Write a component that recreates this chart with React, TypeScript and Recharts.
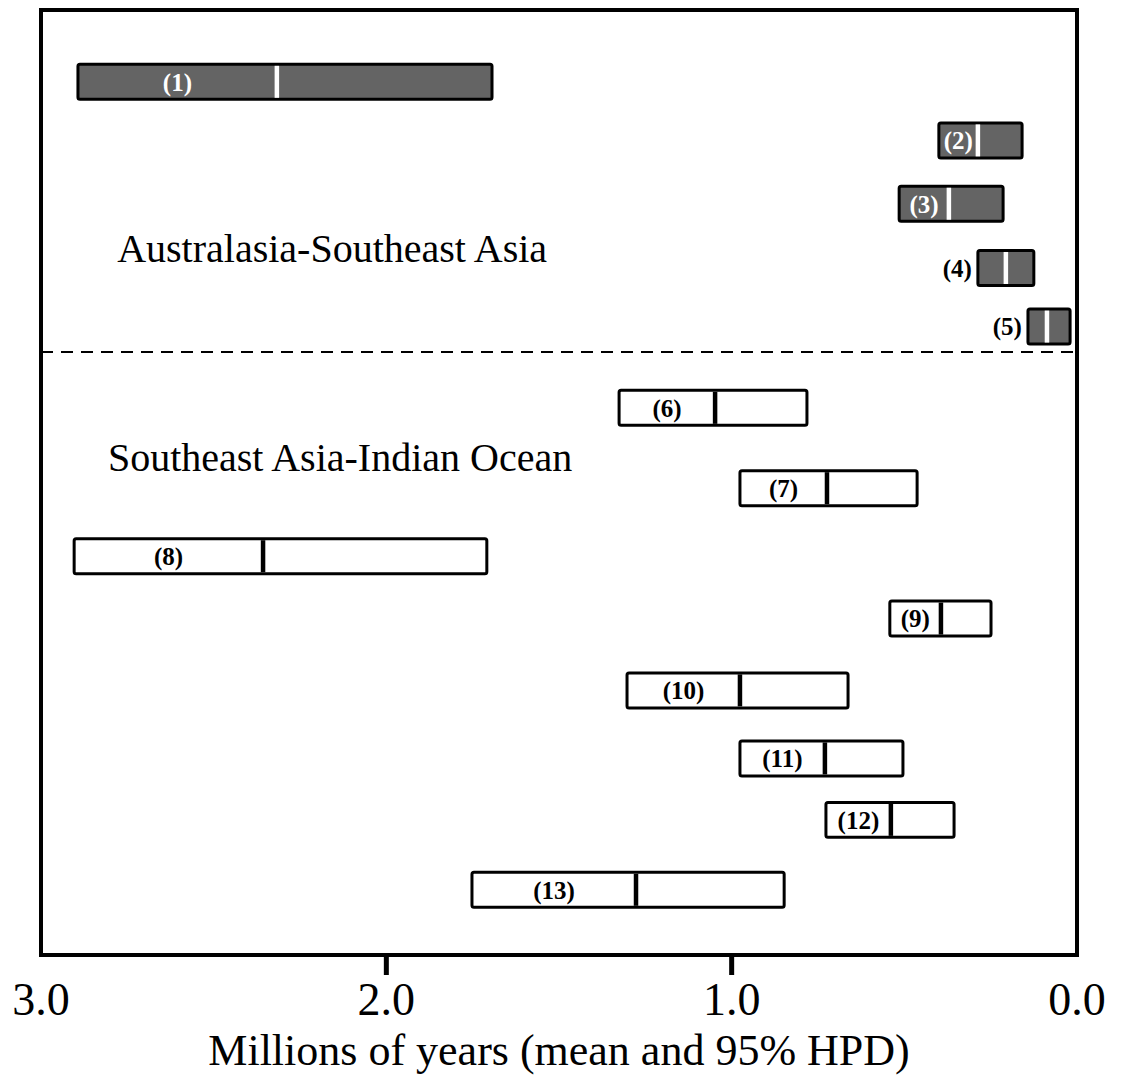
import React from 'react';
import { ComposedChart, XAxis, YAxis, ReferenceArea, ReferenceLine, ReferenceDot, Scatter, Label } from 'recharts';

// Node labels
const nodeLabels = ['(1)', '(2)', '(3)', '(4)', '(5)', '(6)', '(7)', '(8)', '(9)', '(10)', '(11)', '(12)', '(13)'];
// 95% HPD, older bound (Ma)
const hpdOld = [2.893, 0.400, 0.515, 0.287, 0.142, 1.326, 0.976, 2.904, 0.542, 1.303, 0.976, 0.727, 1.752];
// 95% HPD, younger bound (Ma)
const hpdYoung = [1.694, 0.159, 0.214, 0.125, 0.020, 0.782, 0.463, 1.709, 0.249, 0.663, 0.504, 0.356, 0.848];
// mean age (Ma)
const meanAge = [2.317, 0.287, 0.371, 0.206, 0.087, 1.048, 0.724, 2.357, 0.394, 0.976, 0.730, 0.539, 1.277];
// vertical lane of each node (0 = top, 100 = bottom)
const lane = [7.6, 13.8, 20.5, 27.3, 33.5, 42.1, 50.6, 57.8, 64.4, 72.0, 79.2, 85.7, 93.1];
// group: true = Australasia-Southeast Asia
const isAustralasian = [true, true, true, true, true, false, false, false, false, false, false, false, false];
// label drawn outside to the left of the box
const labelOutside = [false, false, false, true, true, false, false, false, false, false, false, false, false];

const regionNames = ['Australasia-Southeast Asia', 'Southeast Asia-Indian Ocean'];
const regionX = [2.157, 2.134];
const regionY = [25.2, 47.3];
const dividerLane = 36.2;

const xTicks = [3, 2, 1, 0];
const xTitle = 'Millions of years (mean and 95% HPD)';

const rows = nodeLabels.map((id, i) => ({
  id,
  old: hpdOld[i],
  young: hpdYoung[i],
  mean: meanAge[i],
  pos: lane[i],
  dark: isAustralasian[i],
  outside: labelOutside[i],
}));

const SERIF = '"Liberation Serif", "Times New Roman", serif';
const HALF = 1.85;

const AxisTick = (props: any) => {
  const { x, y, payload } = props;
  const v = payload.value;
  const inner = v !== 0 && v !== 3;
  return (
    <g>
      {inner && <line x1={x} x2={x} y1={y} y2={y + 20} stroke="#000" strokeWidth={5} />}
      <text x={x} y={y + 60} textAnchor="middle" fontFamily={SERIF} fontSize={46} fill="#000">
        {v.toFixed(1)}
      </text>
    </g>
  );
};

const MeanMark = (props: any) => {
  const { cx, cy, payload } = props;
  return (
    <rect x={cx - 2.25} y={cy - 16} width={4.5} height={32} fill={payload.dark ? '#ffffff' : '#000000'} />
  );
};

export default function App() {
  return (
    <div style={{ margin: '-8px 0 0 -8px', width: 1121, height: 1085, background: '#fff' }}>
      <ComposedChart width={1121} height={1085} margin={{ top: 10, right: 44, bottom: 10, left: 41 }}>
        <XAxis
          type="number"
          dataKey="mean"
          domain={[0, 3]}
          reversed
          ticks={xTicks}
          interval={0}
          axisLine={false}
          tickLine={false}
          tickSize={0}
          tickMargin={0}
          height={120}
          tick={<AxisTick />}
        >
          <Label value={xTitle} position="insideBottom" offset={10} fontFamily={SERIF} fontSize={44} fill="#000" />
        </XAxis>
        <YAxis type="number" dataKey="pos" domain={[0, 100]} reversed hide />

        <ReferenceArea x1={3} x2={0} y1={0} y2={100} fill="none" stroke="#000" strokeWidth={4} />
        <ReferenceLine y={dividerLane} stroke="#000" strokeWidth={2} strokeDasharray="12 8" />

        {regionNames.map((name, i) => (
          <ReferenceDot
            key={name}
            x={regionX[i]}
            y={regionY[i]}
            r={1}
            fill="none"
            stroke="none"
            label={{ value: name, position: 'center', fontFamily: SERIF, fontSize: 40, fill: '#000' }}
          />
        ))}

        {rows.map((r) => (
          <ReferenceArea
            key={'box' + r.id}
            x1={r.old}
            x2={r.young}
            y1={r.pos - HALF}
            y2={r.pos + HALF}
            fill={r.dark ? '#646464' : '#ffffff'}
            fillOpacity={1}
            stroke="#000"
            strokeWidth={3}
            radius={2}
          />
        ))}

        {rows.map((r) => (
          <ReferenceArea
            key={'lab' + r.id}
            x1={r.old}
            x2={r.mean}
            y1={r.pos - HALF}
            y2={r.pos + HALF}
            fill="none"
            stroke="none"
            label={{
              value: r.id,
              position: r.outside ? 'left' : 'center',
              offset: 6,
              fontFamily: SERIF,
              fontWeight: 'bold',
              fontSize: 25,
              fill: r.dark && !r.outside ? '#ffffff' : '#000000',
            }}
          />
        ))}

        <Scatter data={rows} dataKey="pos" shape={<MeanMark />} isAnimationActive={false} />
      </ComposedChart>
    </div>
  );
}
